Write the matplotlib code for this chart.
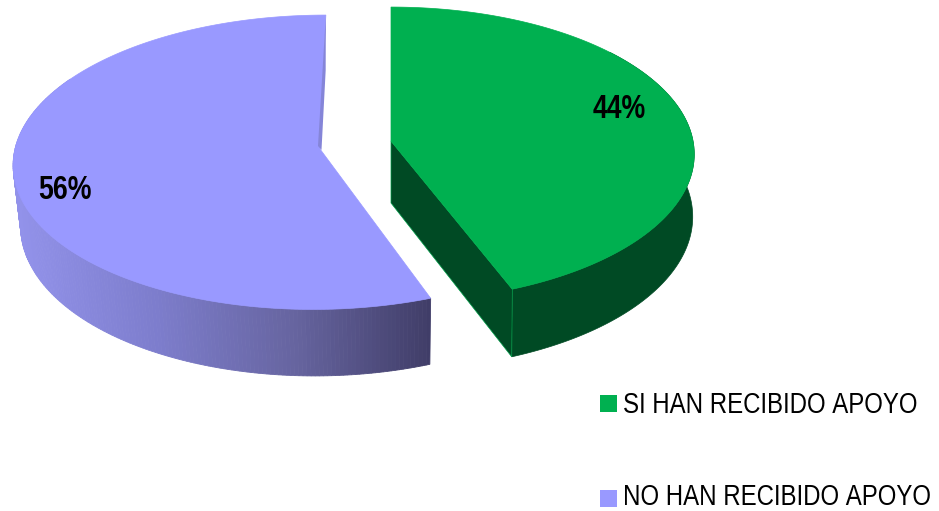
import matplotlib
matplotlib.use("Agg")
import matplotlib.pyplot as plt
import matplotlib.font_manager as fm
from matplotlib.colors import LinearSegmentedColormap
from matplotlib.patches import Polygon, Rectangle
from fontTools.ttLib import TTFont
from fontTools.ttLib.tables.ttProgram import Program
import numpy as np

labels = ["SI HAN RECIBIDO APOYO", "NO HAN RECIBIDO APOYO"]
values = [44, 56]
top_colors = ["#00b050", "#9999ff"]

VX = 391      # point the perspective shrinks toward
K = 0.09
B = 146
NARROW = 0.8


def make_narrow(weight, family):
    # no Arial Narrow here, so squeeze Liberation Sans into a font of its own
    src = fm.findfont(fm.FontProperties(family="Liberation Sans", weight=weight))
    font = TTFont(src)
    glyf = font["glyf"]
    for name in font.getGlyphOrder():
        g = glyf[name]
        if g.isComposite():
            for comp in g.components:
                comp.x = int(comp.x * NARROW)
        elif g.numberOfContours > 0:
            g.coordinates.scale((NARROW, 1))
            g.coordinates.toInt()
        adv, lsb = font["hmtx"][name]
        font["hmtx"][name] = (int(adv * NARROW), int(lsb * NARROW))
        if hasattr(g, "program"):
            empty = Program()
            empty.fromBytecode(b"")
            g.program = empty
    for tag in ["fpgm", "prep", "cvt ", "hdmx", "VDMX", "LTSH", "GPOS", "GSUB", "kern"]:
        if tag in font:
            del font[tag]
    for rec in font["name"].names:
        if rec.nameID in (1, 4, 16):
            rec.string = family
        if rec.nameID == 6:
            rec.string = family.replace(" ", "")
    path = family.replace(" ", "") + ".ttf"
    font.save(path)
    fm.fontManager.addfont(path)
    return fm.FontProperties(fname=path)


regular = make_narrow("normal", "Narrow Regular")
bold = make_narrow("bold", "Narrow Bold")


def project(cx, cy, a, ang, depth=0, shrink=1.0):
    # ang is measured clockwise from 12 o'clock, in degrees
    u = np.sin(np.radians(ang))
    v = np.cos(np.radians(ang))
    d = 1 + K * v
    x = VX + (cx - VX + a * u) / d
    y = cy - B * v / d
    x = VX + (x - VX) * shrink
    y = y + depth / d
    return np.column_stack([x, y])


fig = plt.figure(figsize=(9.39, 5.11), dpi=100)
ax = fig.add_axes([0, 0, 1, 1])
ax.set_xlim(0, 939)
ax.set_ylim(511, 0)
ax.axis("off")

split = 360 * values[0] / sum(values)

# purple slice
px, py, pa, p_depth, p_shrink = 320, 149, 305, 60.5, 0.98
p_start = split + 1
cmap = LinearSegmentedColormap.from_list("side", ["#9292ea", "#7d7dcc", "#66649f", "#3f3c66"])
angs = np.linspace(p_start, 300, 200)
side_up = project(px, py, pa, angs)
side_low = project(px, py, pa, angs, p_depth, p_shrink)
for i in range(len(angs) - 1):
    c = cmap(np.clip(((side_up[i][0] + side_up[i + 1][0]) / 2 - 15) / 420, 0, 1))
    quad = [side_up[i], side_up[i + 1], side_low[i + 1], side_low[i]]
    ax.add_patch(Polygon(quad, closed=True, fc=c, ec=c, lw=0.6))
rim = project(px, py, pa, np.linspace(p_start, 360, 240))
ax.add_patch(Polygon(np.vstack([[px, py], rim]), closed=True, fc=top_colors[1], ec=top_colors[1], lw=0.5))
wall_low = project(px, py, pa, 360, p_depth, p_shrink)[0] - [1.5, 0]
ax.add_patch(Polygon([rim[-1], wall_low, [px + 1.5, py + 1], [px - 2, py - 3]],
                     closed=True, fc="#8585d8", ec="none"))

# green slice
gx, gy, ga, g_depth, g_shrink = 391, 141, 302, 62, 0.995
g_rim = project(gx, gy, ga, np.linspace(0, split, 200))
g_angs = np.linspace(50, split, 150)
g_up = project(gx, gy, ga, g_angs)
g_low = project(gx, gy, ga, g_angs, g_depth, g_shrink)
ax.add_patch(Polygon(np.vstack([g_up, g_low[::-1]]), closed=True, fc="#004a24", ec="#004a24", lw=0.5))
ax.add_patch(Polygon([[gx, gy], g_rim[-1], g_low[-1], [gx, gy + g_depth]], closed=True,
                     fc="#004a24", ec="#00a04a", lw=0.5))
ax.add_patch(Polygon(np.vstack([[gx, gy], g_rim]), closed=True, fc=top_colors[0], ec=top_colors[0], lw=0.5))

# percent labels
ax.text(619, 118, f"{values[0]}%", fontproperties=bold, fontsize=24, ha="center", va="baseline", color="black")
ax.text(65, 199, f"{values[1]}%", fontproperties=bold, fontsize=24, ha="center", va="baseline", color="black")

# legend
for lab, col, y, base in zip(labels, top_colors, [403, 498], [413, 505]):
    ax.add_patch(Rectangle((600, y - 8), 17, 17, fc=col, ec="none"))
    ax.text(623, base, lab, fontproperties=regular, fontsize=21.6, ha="left", va="baseline", color="black")

fig.savefig("out.png", dpi=100)
